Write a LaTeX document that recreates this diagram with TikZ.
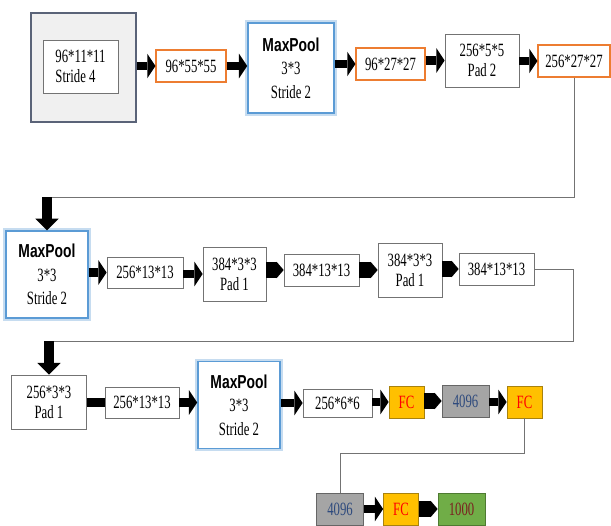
\documentclass[tikz,border=0pt]{standalone}
\usepackage{fontspec}
\setmainfont{Liberation Serif}[FakeStretch=0.68]
\newfontfamily\mpfont{Liberation Sans}[FakeStretch=0.74]
\usetikzlibrary{arrows.meta}
\definecolor{boxorange}{HTML}{ED7D31}
\definecolor{poolblue}{HTML}{5B9BD5}
\definecolor{fcyellow}{HTML}{FFC000}
\definecolor{fcedge}{HTML}{A8820E}
\definecolor{hidgray}{HTML}{A5A5A5}
\definecolor{hidtext}{HTML}{2E4A7D}
\definecolor{outgreen}{HTML}{70AD47}
\definecolor{outedge}{HTML}{4E7A31}
\definecolor{outtext}{HTML}{7B2020}
\definecolor{inedge}{HTML}{5A6378}

\begin{document}
\begin{tikzpicture}[x=0.03cm,y=-0.03cm]
      \useasboundingbox (0,0) rectangle (611,525);
      \tikzset{B/.style = {draw=black!55, line width=0.6pt, fill=white, inner sep=0pt, align=center, font=\fontsize{16}{17}\selectfont}}
      \tikzset{O/.style = {B, draw=boxorange, line width=0.9pt, minimum height=0.96cm}}
      \tikzset{M/.style = {B, draw=poolblue, line width=1.4pt, preaction={draw=poolblue!35, line width=5pt}, minimum width=2.46cm, minimum height=2.6cm}}
      \tikzset{FC/.style = {B, fill=fcyellow, draw=fcedge, text=red, minimum width=1.05cm, minimum height=0.96cm}}
      \tikzset{H/.style = {B, fill=hidgray, draw=black!60, text=hidtext, minimum width=1.41cm, minimum height=0.96cm}}
      \tikzset{A/.style = {draw, line width=7.5pt, -{Triangle[length=7pt,width=21pt,line width=0pt]}}}
      \tikzset{P/.style = {draw, line width=14pt, -{Triangle[length=6pt,width=14pt,line width=0pt]}}}
      \tikzset{D/.style = {draw, line width=8.5pt, -{Triangle[length=10pt,width=20pt,line width=0pt]}}}
      \tikzset{L/.style = {draw=black!55, line width=0.8pt}}
      % first row
      \node[B, fill=black!6, draw=inedge, line width=1.2pt, minimum width=3.15cm, minimum height=3.27cm](in0) at (83.5,67.5) {};
      \node[B, align=left, minimum width=2.25cm, minimum height=1.59cm](conv1) at (80.5,66.5) {96*11*11\\Stride 4};
      \node[O, minimum width=2.1cm](o1) at (191,66) {96*55*55};
      \node[M, minimum width=2.58cm, minimum height=2.7cm](mp1) at (291,68) {{\mpfont\bfseries MaxPool}\\[3pt]3*3\\[3pt]Stride 2};
      \node[O, minimum width=2.07cm](o2) at (390.5,64) {96*27*27};
      \node[B, minimum width=2.22cm, minimum height=1.59cm](conv2) at (482,60.5) {256*5*5\\Pad 2};
      \node[O, minimum width=2.16cm](o3) at (574,61) {256*27*27};
      % second row
      \node[M](mp2) at (47,274.5) {{\mpfont\bfseries MaxPool}\\[3pt]3*3\\[3pt]Stride 2};
      \node[B, minimum width=2.28cm, minimum height=0.93cm](o4) at (145,272.5) {256*13*13};
      \node[B, minimum width=1.89cm, minimum height=1.62cm](conv3) at (234.5,274) {384*3*3\\Pad 1};
      \node[B, minimum width=2.25cm, minimum height=0.96cm](o5) at (321.5,270) {384*13*13};
      \node[B, minimum width=1.92cm, minimum height=1.62cm](conv4) at (410,270) {384*3*3\\Pad 1};
      \node[B, minimum width=2.25cm, minimum height=0.96cm](o6) at (496.5,269) {384*13*13};
      % third row
      \node[B, minimum width=2.25cm, minimum height=1.62cm](conv5) at (49,402) {256*3*3\\Pad 1};
      \node[B, minimum width=2.22cm, minimum height=0.93cm](o7) at (142,402.5) {256*13*13};
      \node[M](mp3) at (239,405) {{\mpfont\bfseries MaxPool}\\[3pt]3*3\\[3pt]Stride 2};
      \node[B, minimum width=2.07cm, minimum height=0.84cm](o8) at (337.5,403) {256*6*6};
      \node[FC](fc1) at (406.5,402) {FC};
      \node[H](h1) at (465.5,401) {4096};
      \node[FC](fc2) at (524.5,402) {FC};
      % last row
      \node[H](h2) at (340,509) {4096};
      \node[FC](fc3) at (401,509) {FC};
      \node[B, fill=outgreen, draw=outedge, text=outtext, minimum width=1.41cm, minimum height=0.96cm](out) at (461.5,509) {1000};
      \coordinate (t1) at (47,197);
      \coordinate (t2a) at (573,341);
      \coordinate (t2) at (49,341);
      \coordinate (t3) at (340,453);
      \draw[A](in0.east |- o1) to (o1.west);
      \draw[A](o1.east) to (o1.east -| mp1.west);
      \draw[A](mp1.east |- o2) to (o2.west);
      \draw[A](o2.east |- conv2) to (conv2.west);
      \draw[A](conv2.east |- o3) to (o3.west);
      \draw[L](o3.south) |- (t1);
      \draw[D](t1) to (mp2.north);
      \draw[A](mp2.east |- o4) to (o4.west);
      \draw[A](o4.east |- conv3) to (conv3.west);
      \draw[P](conv3.east |- o5) to (o5.west);
      \draw[P](o5.east) to (o5.east -| conv4.west);
      \draw[P](conv4.east |- o6) to (o6.west);
      \draw[L](o6.east) -| (t2a) -- (t2);
      \draw[D](t2) to (conv5.north);
      \draw[line width=8pt](conv5.east |- o7) to (o7.west);
      \draw[A](o7.east) to (o7.east -| mp3.west);
      \draw[A](mp3.east |- o8) to (o8.west);
      \draw[A](o8.east |- fc1) to (fc1.west);
      \draw[P](fc1.east |- h1) to (h1.west);
      \draw[A](h1.east |- fc2) to (fc2.west);
      \draw[L](fc2.south) |- (t3) -- (h2.north);
      \draw[A](h2.east |- fc3) to (fc3.west);
      \draw[P](fc3.east) to (out.west);
\end{tikzpicture}
\end{document}
